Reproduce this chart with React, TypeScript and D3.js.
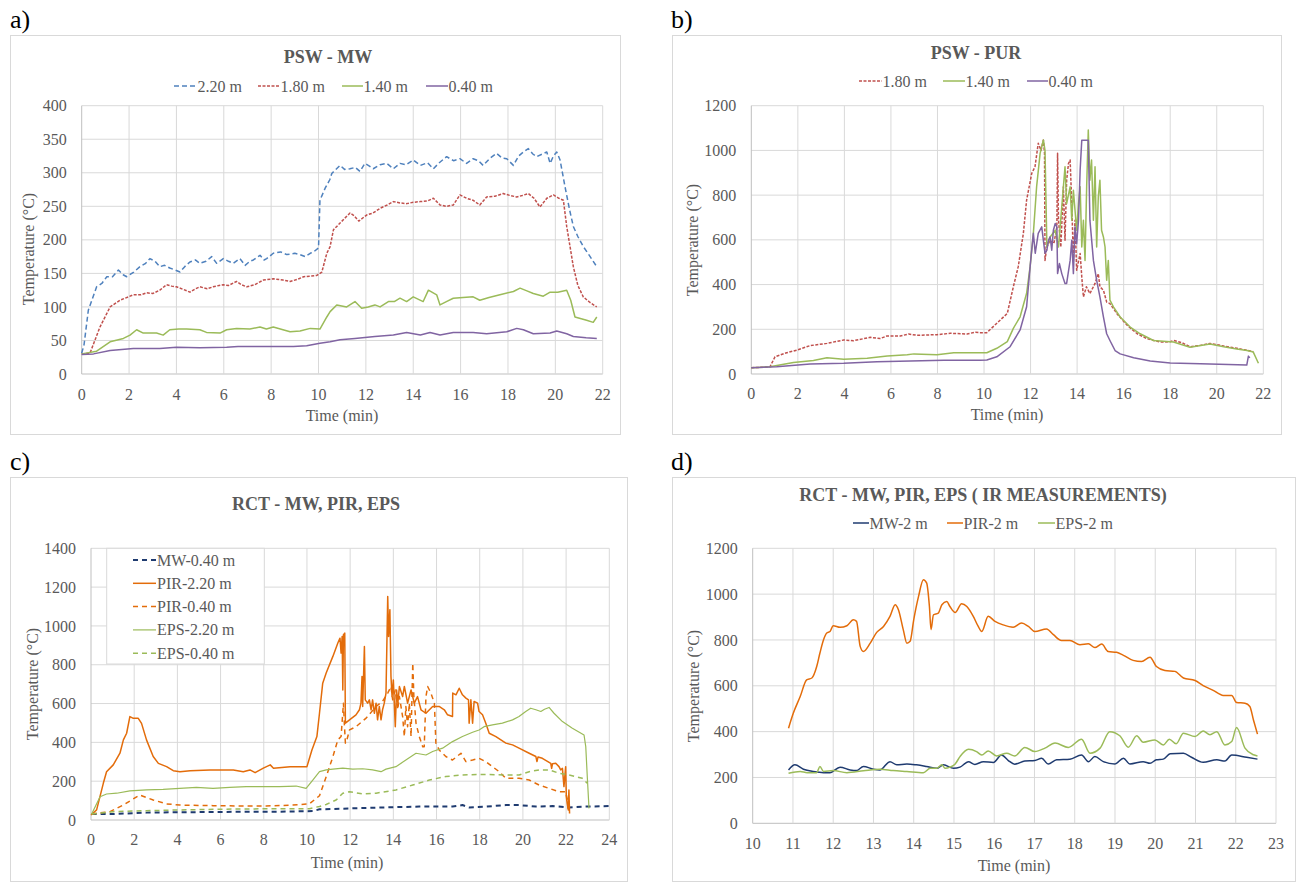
import React from 'react';
import * as d3 from 'd3';

type Pt = [number, number];

// ---------- Panel a) PSW - MW ----------
const aXTicks = [0, 2, 4, 6, 8, 10, 12, 14, 16, 18, 20, 22];
const aYTicks = [0, 50, 100, 150, 200, 250, 300, 350, 400];
const a220: Pt[] = [[0,31],[0.1,44],[0.28,95],[0.63,130],[0.85,135],[1.06,145],[1.3,145],[1.55,155],[1.75,148],[1.9,145],[2.2,152],[2.46,160],[2.7,165],[2.88,172],[3.1,168],[3.3,160],[3.5,162],[3.72,158],[3.95,155],[4.15,152],[4.35,160],[4.57,167],[4.8,170],[4.99,165],[5.25,168],[5.49,175],[5.7,165],[5.98,172],[6.2,168],[6.4,165],[6.68,172],[6.9,162],[7.1,168],[7.25,170],[7.53,177],[7.7,170],[7.81,172],[8.09,180],[8.4,182],[8.66,178],[9.0,180],[9.22,178],[9.44,175],[9.65,180],[9.79,182],[10.0,188],[10.06,259],[10.28,277],[10.48,290],[10.56,299],[10.91,311],[11.1,305],[11.33,306],[11.55,308],[11.75,302],[11.96,314],[12.15,310],[12.31,306],[12.6,312],[12.88,314],[13.16,306],[13.44,314],[13.7,312],[14.0,319],[14.3,311],[14.6,315],[14.85,306],[15.1,315],[15.41,324],[15.7,318],[15.97,321],[16.25,314],[16.53,321],[16.75,318],[16.95,311],[17.25,322],[17.52,329],[17.75,322],[17.95,321],[18.23,311],[18.45,325],[18.65,331],[18.86,336],[19.05,328],[19.21,324],[19.45,328],[19.64,331],[19.78,314],[19.92,325],[20.06,331],[20.2,319],[20.41,279],[20.6,245],[20.76,220],[20.95,205],[21.18,190],[21.47,175],[21.75,160]];
const a180: Pt[] = [[0,30],[0.35,31],[0.77,70],[1.2,100],[1.62,110],[2.18,118],[2.5,118],[2.74,121],[3.0,120],[3.3,125],[3.58,133],[3.8,131],[4.0,130],[4.3,126],[4.57,122],[4.8,127],[4.99,130],[5.3,127],[5.55,130],[5.8,132],[5.98,133],[6.2,132],[6.54,138],[6.75,133],[6.97,130],[7.3,133],[7.67,140],[8.09,142],[8.5,140],[8.8,138],[9.1,141],[9.37,145],[9.7,146],[9.93,147],[10.14,152],[10.35,180],[10.49,190],[10.63,215],[10.91,225],[11.1,232],[11.33,240],[11.5,236],[11.7,228],[12.03,237],[12.3,240],[12.6,247],[12.9,252],[13.16,257],[13.45,255],[13.72,254],[14.0,256],[14.3,257],[14.6,258],[14.85,262],[15.13,252],[15.4,250],[15.69,252],[15.97,267],[16.25,262],[16.53,259],[16.81,252],[17.1,264],[17.45,265],[17.8,269],[18.1,266],[18.37,264],[18.6,266],[18.86,269],[19.1,262],[19.35,249],[19.64,262],[19.92,267],[20.15,262],[20.34,259],[20.48,220],[20.76,160],[20.95,132],[21.18,115],[21.45,107],[21.75,100]];
const a140: Pt[] = [[0,30],[0.63,34],[1.2,48],[1.76,53],[2.04,58],[2.32,66],[2.6,61],[3.16,61],[3.44,58],[3.72,66],[4.1,67],[4.43,67],[4.99,66],[5.27,62],[5.84,61],[6.12,66],[6.54,68],[7.1,67],[7.53,70],[7.8,67],[8.09,70],[8.5,66],[8.8,63],[9.22,64],[9.65,68],[10.06,67],[10.35,85],[10.49,93],[10.77,103],[11.19,100],[11.54,108],[11.82,98],[12.1,100],[12.38,103],[12.6,100],[12.95,108],[13.2,108],[13.44,113],[13.72,108],[14.0,115],[14.42,108],[14.64,125],[14.99,118],[15.13,103],[15.4,108],[15.69,113],[16.1,114],[16.53,115],[16.81,110],[17.2,114],[17.66,118],[18.23,123],[18.51,128],[18.8,124],[19.07,120],[19.49,116],[19.78,122],[20.1,122],[20.48,125],[20.65,110],[20.83,85],[21.32,80],[21.6,77],[21.75,85]];
const a040: Pt[] = [[0,29],[0.5,30],[1.2,35],[2.18,38],[2.74,38],[3.3,38],[4.0,40],[4.99,39],[6.12,40],[6.6,41],[7.1,41],[7.81,41],[8.94,41],[9.5,42],[10.06,46],[10.49,48],[10.91,51],[11.54,53],[12.38,56],[13.16,58],[13.72,62],[14.3,58],[14.71,62],[15.13,58],[15.69,62],[16.53,62],[17.1,60],[17.95,63],[18.37,68],[18.65,66],[19.07,60],[19.78,61],[20.06,64],[20.48,60],[20.76,56],[21.3,54],[21.75,53]];

// ---------- Panel b) PSW - PUR ----------
const bXTicks = [0, 2, 4, 6, 8, 10, 12, 14, 16, 18, 20, 22];
const bYTicks = [0, 200, 400, 600, 800, 1000, 1200];
const b180: Pt[] = [[0,28],[0.8,32],[1.02,77],[1.52,95],[1.96,107],[2.53,127],[3.25,137],[3.97,152],[4.4,149],[5.11,164],[5.54,159],[5.83,170],[6.4,170],[6.76,179],[7.12,173],[7.98,176],[8.55,182],[9.27,179],[9.63,187],[9.84,185],[10.12,185],[10.55,227],[11.0,271],[11.26,390],[11.47,480],[11.69,629],[11.83,778],[12.05,897],[12.19,927],[12.33,1032],[12.45,1000],[12.55,1046],[12.6,987],[12.62,508],[12.7,568],[12.84,598],[13.0,583],[13.13,658],[13.16,987],[13.2,688],[13.3,568],[13.41,837],[13.48,598],[13.55,867],[13.63,942],[13.7,957],[13.77,762],[13.84,508],[13.91,688],[13.98,464],[14.13,539],[14.2,434],[14.27,345],[14.4,390],[14.55,360],[14.77,405],[14.91,449],[14.98,390],[15.13,375],[15.27,322],[15.41,315],[15.71,270],[16.15,218],[16.58,180],[17.0,158],[17.57,143],[17.99,144],[18.14,150],[18.5,140],[18.85,122],[19.3,128],[19.71,137],[20.3,125],[20.86,115],[21.2,108],[21.57,100]];
const b140: Pt[] = [[0,28],[0.8,32],[1.81,51],[2.67,60],[3.25,73],[3.97,66],[4.98,70],[5.84,80],[6.7,86],[6.99,90],[7.98,86],[8.7,95],[9.84,95],[10.12,95],[10.55,115],[11.0,145],[11.26,204],[11.55,256],[11.83,361],[11.98,480],[12.12,629],[12.26,838],[12.41,987],[12.55,1047],[12.62,1000],[12.69,630],[12.7,568],[12.84,613],[13.06,643],[13.2,568],[13.41,837],[13.48,927],[13.55,762],[13.7,837],[13.77,688],[13.84,822],[13.98,643],[14.06,762],[14.13,837],[14.2,568],[14.27,688],[14.34,508],[14.41,837],[14.48,1091],[14.55,867],[14.62,957],[14.7,688],[14.77,927],[14.84,568],[14.91,792],[14.98,867],[15.05,643],[15.13,613],[15.2,568],[15.27,419],[15.34,508],[15.41,330],[15.56,300],[15.85,255],[16.28,210],[16.71,180],[17.28,150],[18.14,143],[18.85,120],[19.71,134],[20.3,122],[20.86,112],[21.3,105],[21.57,98],[21.79,48]];
const b040: Pt[] = [[0,28],[1.09,32],[2.53,45],[3.97,48],[5.4,55],[6.84,58],[8.27,61],[9.84,61],[10.12,63],[10.55,77],[11.12,122],[11.55,197],[11.83,301],[11.98,480],[12.12,629],[12.2,540],[12.33,629],[12.48,658],[12.55,598],[12.62,540],[12.7,554],[12.77,598],[12.84,613],[12.91,554],[12.98,643],[13.06,673],[13.13,658],[13.16,449],[13.24,494],[13.34,449],[13.48,405],[13.55,405],[13.7,508],[13.77,598],[13.84,449],[13.91,658],[13.98,583],[14.06,688],[14.13,912],[14.2,1046],[14.48,1046],[14.55,688],[14.7,508],[14.84,419],[14.98,345],[15.13,255],[15.27,180],[15.41,150],[15.63,105],[15.85,90],[16.43,73],[17.14,58],[18.0,49],[19.3,46],[20.5,43],[21.29,40],[21.36,80],[21.42,72]];

// ---------- Panel c) RCT - MW, PIR, EPS ----------
const cXTicks = [0, 2, 4, 6, 8, 10, 12, 14, 16, 18, 20, 22, 24];
const cYTicks = [0, 200, 400, 600, 800, 1000, 1200, 1400];
const cMW040: Pt[] = [[0.03,31],[1.03,31],[2.57,38],[4.11,40],[5.65,41],[7.19,43],[8.73,43],[10.27,46],[10.58,55],[12.12,60],[13.66,65],[15.2,69],[16.74,69],[17.2,77],[17.5,65],[18.28,69],[19.21,77],[19.82,77],[20.6,69],[21.37,72],[22.13,65],[22.9,69],[23.98,72]];
const cPIR220: Pt[] = [[0,26],[0.26,52],[0.57,189],[0.72,249],[1.03,284],[1.34,344],[1.5,413],[1.65,447],[1.8,533],[1.96,524],[2.19,524],[2.34,498],[2.57,413],[2.88,327],[3.12,292],[3.5,275],[3.81,254],[4.12,249],[4.59,254],[5.51,258],[6.59,258],[7.05,249],[7.36,258],[7.6,244],[7.98,267],[8.3,284],[8.45,267],[9.22,275],[10.0,275],[10.23,361],[10.46,430],[10.58,550],[10.73,705],[10.89,757],[11.2,843],[11.43,912],[11.53,937],[11.58,860],[11.63,946],[11.66,670],[11.69,955],[11.75,963],[11.78,499],[11.97,516],[12.27,542],[12.43,568],[12.5,602],[12.55,740],[12.58,585],[12.66,894],[12.7,619],[12.81,602],[12.89,619],[12.97,568],[13.04,619],[13.12,550],[13.2,602],[13.27,516],[13.35,585],[13.43,516],[13.5,568],[13.58,602],[13.66,654],[13.74,1152],[13.78,946],[13.84,1084],[13.89,740],[13.94,636],[14.0,722],[14.09,481],[14.15,670],[14.21,602],[14.28,688],[14.43,636],[14.51,688],[14.66,602],[14.82,670],[14.97,602],[15.12,636],[15.28,568],[15.51,550],[15.82,585],[16.12,585],[16.36,568],[16.51,542],[16.74,533],[16.75,654],[16.9,645],[17.05,679],[17.2,645],[17.36,628],[17.48,619],[17.51,499],[17.59,619],[17.67,499],[17.74,611],[17.9,602],[17.97,559],[18.13,542],[18.28,499],[18.44,447],[18.75,430],[19.21,396],[19.52,387],[19.82,370],[20.29,344],[20.6,327],[20.65,301],[20.7,325],[20.9,318],[21.29,292],[21.33,266],[21.37,290],[21.52,292],[21.67,275],[21.75,258],[21.83,266],[21.9,172],[21.98,275],[22.01,120],[22.05,86],[22.1,52],[22.13,155],[22.16,34]];
const cPIR040: Pt[] = [[0.03,31],[0.88,43],[1.49,77],[2.26,129],[2.88,103],[3.5,83],[4.11,77],[5.65,74],[7.19,72],[8.11,72],[9.34,77],[10.11,83],[10.58,125],[10.89,223],[11.2,326],[11.43,413],[11.58,430],[11.69,602],[11.73,499],[11.78,396],[11.85,413],[11.97,464],[12.27,481],[12.74,525],[13.2,585],[13.5,611],[13.74,654],[13.89,688],[13.97,619],[14.09,670],[14.2,568],[14.28,636],[14.43,533],[14.51,430],[14.58,585],[14.66,481],[14.74,602],[14.82,430],[14.9,808],[14.95,636],[15.05,499],[15.2,430],[15.36,378],[15.43,378],[15.51,636],[15.59,688],[15.74,654],[15.9,602],[15.97,396],[16.12,361],[16.43,327],[16.74,309],[17.13,344],[17.36,301],[17.67,309],[17.97,318],[18.28,301],[18.59,275],[18.9,249],[19.21,215],[19.52,215],[19.82,215],[20.29,206],[20.75,180],[21.21,163],[21.67,146],[21.98,146],[22.06,103],[22.1,52]];
const cEPS220: Pt[] = [[0.03,31],[0.42,120],[0.72,134],[1.19,138],[1.8,150],[2.57,155],[3.34,158],[4.11,163],[4.88,168],[5.65,163],[6.42,168],[7.19,172],[7.96,172],[8.73,172],[9.5,175],[9.96,163],[10.27,206],[10.58,249],[10.89,258],[11.2,262],[11.66,267],[12.12,262],[12.58,264],[13.04,258],[13.43,249],[13.66,262],[14.12,275],[14.58,309],[15.05,344],[15.51,335],[15.82,353],[16.28,370],[16.74,404],[17.2,430],[17.67,452],[17.97,464],[18.2,481],[18.59,490],[19.05,499],[19.52,516],[19.82,533],[20.13,559],[20.36,576],[20.6,568],[20.83,559],[21.0,571],[21.21,580],[21.44,550],[21.83,507],[22.29,473],[22.83,438],[22.91,378],[22.98,224],[23.06,60]];
const cEPS040: Pt[] = [[0.03,31],[1.03,43],[2.57,48],[4.11,52],[5.65,55],[7.19,57],[8.73,58],[10.11,58],[10.58,70],[10.89,80],[11.35,103],[11.66,138],[11.97,146],[12.58,134],[13.2,138],[14.12,155],[14.9,180],[15.67,206],[16.43,224],[17.2,232],[18.28,235],[19.21,232],[19.82,232],[20.29,249],[20.75,258],[21.21,258],[21.67,241],[22.13,232],[22.75,215],[22.98,189]];

// ---------- Panel d) RCT - IR measurements ----------
const dXTicks = [10, 11, 12, 13, 14, 15, 16, 17, 18, 19, 20, 21, 22, 23];
const dYTicks = [0, 200, 400, 600, 800, 1000, 1200];
const dMW: Pt[] = [[10.89,233],[11.05,255],[11.26,236],[11.51,226],[11.76,221],[11.92,221],[12.17,245],[12.42,233],[12.58,230],[12.75,248],[13.0,236],[13.16,233],[13.41,269],[13.58,255],[13.83,259],[14.07,255],[14.32,248],[14.57,240],[14.74,255],[14.99,240],[15.15,245],[15.36,269],[15.52,257],[15.73,269],[15.98,265],[16.18,298],[16.35,274],[16.51,258],[16.76,272],[17.01,274],[17.18,284],[17.34,259],[17.55,277],[17.88,280],[18.17,298],[18.34,269],[18.5,291],[18.71,269],[19.0,259],[19.21,284],[19.37,259],[19.7,269],[19.87,262],[20.03,277],[20.2,280],[20.37,303],[20.7,306],[20.9,288],[21.19,266],[21.53,277],[21.73,272],[21.9,298],[22.27,288],[22.54,280]];
const dPIR: Pt[] = [[10.89,415],[11.01,481],[11.18,553],[11.34,626],[11.47,634],[11.59,684],[11.67,743],[11.76,801],[11.84,830],[11.92,837],[12.0,862],[12.17,855],[12.34,862],[12.5,888],[12.58,881],[12.67,772],[12.75,750],[12.92,786],[13.08,833],[13.25,859],[13.41,903],[13.54,954],[13.62,932],[13.74,845],[13.83,786],[13.91,794],[14.0,888],[14.12,990],[14.24,1063],[14.32,1049],[14.39,946],[14.43,845],[14.49,910],[14.61,917],[14.7,954],[14.82,968],[14.9,946],[15.03,920],[15.19,958],[15.32,946],[15.48,903],[15.6,860],[15.69,837],[15.85,903],[16.02,881],[16.22,866],[16.47,856],[16.68,874],[16.85,859],[17.01,837],[17.3,848],[17.47,823],[17.67,798],[17.88,798],[18.13,779],[18.34,783],[18.5,767],[18.67,782],[18.83,750],[19.04,746],[19.21,733],[19.45,711],[19.66,706],[19.87,725],[20.03,684],[20.24,667],[20.49,663],[20.7,634],[20.99,623],[21.19,601],[21.44,580],[21.69,558],[21.9,558],[22.02,527],[22.23,524],[22.35,510],[22.44,451],[22.54,389]];
const dEPS: Pt[] = [[10.89,218],[11.18,226],[11.35,221],[11.59,221],[11.67,248],[11.76,226],[12.0,230],[12.34,221],[12.75,229],[13.16,236],[13.49,230],[13.83,226],[14.24,221],[14.41,240],[14.57,240],[14.7,255],[14.78,240],[14.9,245],[15.03,259],[15.15,291],[15.36,323],[15.56,313],[15.69,298],[15.85,316],[16.06,294],[16.31,306],[16.51,294],[16.76,331],[17.01,313],[17.26,328],[17.51,350],[17.84,331],[18.17,367],[18.38,306],[18.63,328],[18.87,400],[19.12,382],[19.33,332],[19.54,382],[19.7,354],[19.99,364],[20.2,342],[20.35,367],[20.52,347],[20.7,393],[20.99,379],[21.19,403],[21.36,386],[21.53,400],[21.73,342],[21.9,357],[22.02,418],[22.23,328],[22.44,299],[22.54,294]];

// ---------- styling ----------
const FONT = 'Liberation Serif, Tinos, Times New Roman, DejaVu Serif, serif';
const TXT = '#595959';
const GRID = '#d9d9d9';
const AXIS = '#bfbfbf';
const BLUE = '#4f81bd';
const RED = '#c0504d';
const GREEN = '#9bbb59';
const PURPLE = '#8064a2';
const ORANGE = '#e36c0a';
const NAVY = '#1f3b70';

interface Series { name: string; data: Pt[]; color: string; dash?: string; width: number; legendX?: number; legendW?: number; }
interface Panel {
  label: string; labelX: number; labelY: number;
  frame: [number, number, number, number];
  l: number; r: number; t: number; b: number;
  xDomain: [number, number]; yMax: number;
  xTicks: number[]; yTicks: number[];
  title: string; titleX: number; titleY: number;
  legendY?: number;
  legendBox?: { x: number; y: number; w: number; h: number; y0: number; dy: number; lx: number; lw: number };
  series: Series[];
  smooth?: boolean;
  yLabelX: number; yLabelY: number; xLabelX: number; xLabelY: number;
  xTickY: number;
}

const panels: Panel[] = [
  {
    label: 'a)', labelX: 10, labelY: 28, frame: [10, 35, 610, 399],
    l: 81.7, r: 602.7, t: 105.7, b: 374, xDomain: [0, 22], yMax: 400,
    xTicks: aXTicks, yTicks: aYTicks, title: 'PSW - MW', titleX: 328, titleY: 63,
    legendY: 86,
    series: [
      { name: '2.20 m', data: a220, color: BLUE, dash: '5,3', width: 1.5, legendX: 174, legendW: 23 },
      { name: '1.80 m', data: a180, color: RED, dash: '3,1.5', width: 1.5, legendX: 258, legendW: 22 },
      { name: '1.40 m', data: a140, color: GREEN, width: 1.5, legendX: 342, legendW: 21 },
      { name: '0.40 m', data: a040, color: PURPLE, width: 1.5, legendX: 426, legendW: 22 },
    ],
    yLabelX: 34, yLabelY: 249, xLabelX: 342, xLabelY: 421, xTickY: 400,
  },
  {
    label: 'b)', labelX: 671, labelY: 28, frame: [672, 35, 609, 399],
    l: 751.3, r: 1263.3, t: 105.7, b: 374, xDomain: [0, 22], yMax: 1200,
    xTicks: bXTicks, yTicks: bYTicks, title: 'PSW - PUR', titleX: 976, titleY: 59,
    legendY: 81,
    series: [
      { name: '1.80 m', data: b180, color: RED, dash: '3,1.5', width: 1.5, legendX: 859, legendW: 23 },
      { name: '1.40 m', data: b140, color: GREEN, width: 1.5, legendX: 943, legendW: 22 },
      { name: '0.40 m', data: b040, color: PURPLE, width: 1.5, legendX: 1027, legendW: 21 },
    ],
    yLabelX: 698, yLabelY: 240, xLabelX: 1007, xLabelY: 420, xTickY: 399,
  },
  {
    label: 'c)', labelX: 10, labelY: 470, frame: [10, 477, 617, 404],
    l: 91, r: 609.3, t: 548.3, b: 820, xDomain: [0, 24], yMax: 1400,
    xTicks: cXTicks, yTicks: cYTicks, title: 'RCT - MW, PIR, EPS', titleX: 316, titleY: 510,
    legendBox: { x: 106.7, y: 548.3, w: 157.6, h: 115.7, y0: 560, dy: 23.3, lx: 133, lw: 23 },
    series: [
      { name: 'MW-0.40 m', data: cMW040, color: NAVY, dash: '5,4', width: 2 },
      { name: 'PIR-2.20 m', data: cPIR220, color: ORANGE, width: 1.5 },
      { name: 'PIR-0.40 m', data: cPIR040, color: ORANGE, dash: '5,4', width: 1.5 },
      { name: 'EPS-2.20 m', data: cEPS220, color: GREEN, width: 1.2 },
      { name: 'EPS-0.40 m', data: cEPS040, color: GREEN, dash: '5,4', width: 1.5 },
    ],
    yLabelX: 38, yLabelY: 684, xLabelX: 347, xLabelY: 868, xTickY: 845,
  },
  {
    label: 'd)', labelX: 671, labelY: 470, frame: [672, 477, 623, 404],
    l: 752.7, r: 1276, t: 548.3, b: 823.3, xDomain: [10, 23], yMax: 1200,
    xTicks: dXTicks, yTicks: dYTicks, title: 'RCT - MW, PIR, EPS ( IR MEASUREMENTS)', titleX: 983, titleY: 501,
    legendY: 523, smooth: true,
    series: [
      { name: 'MW-2 m', data: dMW, color: NAVY, width: 1.5, legendX: 853, legendW: 16 },
      { name: 'PIR-2 m', data: dPIR, color: ORANGE, width: 1.5, legendX: 947, legendW: 16 },
      { name: 'EPS-2 m', data: dEPS, color: GREEN, width: 1.5, legendX: 1038, legendW: 17 },
    ],
    yLabelX: 699, yLabelY: 686, xLabelX: 1014, xLabelY: 871, xTickY: 849,
  },
];

const txtStyle = { fontFamily: FONT };

function ChartPanel({ p }: { p: Panel }) {
  const x = d3.scaleLinear().domain(p.xDomain).range([p.l, p.r]);
  const y = d3.scaleLinear().domain([0, p.yMax]).range([p.b, p.t]);
  const line = d3.line<Pt>().x(d => x(d[0])).y(d => y(d[1]))
    .curve(p.smooth ? d3.curveMonotoneX : d3.curveLinear);
  const [fx, fy, fw, fh] = p.frame;
  return (
    <g>
      <text x={p.labelX} y={p.labelY} fontSize={26} fill="#000" style={txtStyle}>{p.label}</text>
      <rect x={fx + 0.5} y={fy + 0.5} width={fw} height={fh} fill="#fff" stroke={GRID} strokeWidth={1} />
      {p.yTicks.map(v => (
        <line key={'h' + v} x1={p.l} x2={p.r} y1={y(v)} y2={y(v)} stroke={v === 0 ? AXIS : GRID} strokeWidth={1} />
      ))}
      {p.xTicks.map(v => (
        <line key={'v' + v} x1={x(v)} x2={x(v)} y1={p.t} y2={p.b} stroke={v === p.xDomain[0] ? AXIS : GRID} strokeWidth={1} />
      ))}
      {p.yTicks.map(v => (
        <text key={'yl' + v} x={p.l - 15} y={y(v)} dy="0.35em" textAnchor="end" fontSize={16} fill={TXT} style={txtStyle}>{v}</text>
      ))}
      {p.xTicks.map(v => (
        <text key={'xl' + v} x={x(v)} y={p.xTickY} textAnchor="middle" fontSize={16} fill={TXT} style={txtStyle}>{v}</text>
      ))}
      <text x={p.xLabelX} y={p.xLabelY} textAnchor="middle" fontSize={16} fill={TXT} style={txtStyle}>Time (min)</text>
      <text transform={`translate(${p.yLabelX},${p.yLabelY}) rotate(-90)`} textAnchor="middle" fontSize={16} fill={TXT} style={txtStyle}>Temperature (°C)</text>
      <text x={p.titleX} y={p.titleY} textAnchor="middle" fontSize={18} fontWeight="bold" fill={TXT} style={txtStyle}>{p.title}</text>
      {p.series.map(s => (
        <path key={s.name} d={line(s.data) || ''} fill="none" stroke={s.color} strokeWidth={s.width}
          strokeDasharray={s.dash} strokeLinejoin="round" />
      ))}
      {p.legendY !== undefined && p.series.map(s => (
        <g key={'lg' + s.name}>
          <line x1={s.legendX} x2={(s.legendX || 0) + (s.legendW || 20)} y1={p.legendY} y2={p.legendY}
            stroke={s.color} strokeWidth={s.width} strokeDasharray={s.dash} />
          <text x={(s.legendX || 0) + (s.legendW || 20) + 0.5} y={(p.legendY || 0) + 5.5} fontSize={16} fill={TXT} style={txtStyle}>{s.name}</text>
        </g>
      ))}
      {p.legendBox && (
        <g>
          <rect x={p.legendBox.x} y={p.legendBox.y} width={p.legendBox.w} height={p.legendBox.h} fill="#fff" stroke={GRID} />
          {p.series.map((s, i) => {
            const lb = p.legendBox!;
            const yy = lb.y0 + i * lb.dy;
            return (
              <g key={'lb' + s.name}>
                <line x1={lb.lx} x2={lb.lx + lb.lw} y1={yy} y2={yy} stroke={s.color} strokeWidth={s.width} strokeDasharray={s.dash} />
                <text x={lb.lx + lb.lw + 1} y={yy + 5.5} fontSize={16} fill={TXT} style={txtStyle}>{s.name}</text>
              </g>
            );
          })}
        </g>
      )}
    </g>
  );
}

export default function App() {
  return (
    <svg width={1298} height={882} style={{ position: 'absolute', left: 0, top: 0, background: '#fff', fontFamily: FONT }}>
      <rect x={0} y={0} width={1298} height={882} fill="#fff" />
      {panels.map(p => <ChartPanel key={p.label} p={p} />)}
    </svg>
  );
}
